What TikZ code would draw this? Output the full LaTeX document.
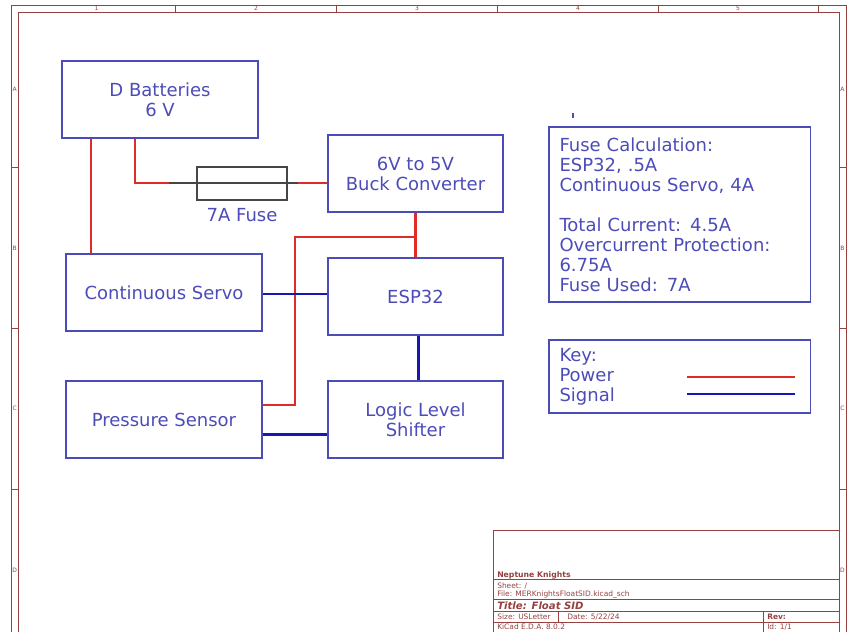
\documentclass[tikz,border=0pt]{standalone}
\usepackage{fontspec}
\setmainfont{DejaVu Sans}
\usetikzlibrary{positioning,calc}

\definecolor{notecol}{RGB}{76,76,184}
\definecolor{pwrcol}{RGB}{224,44,40}
\definecolor{sigcol}{RGB}{24,24,176}
\definecolor{frmcol}{RGB}{150,64,64}
\definecolor{leadcol}{RGB}{70,70,70}

\begin{document}
\begin{tikzpicture}[x=0.75pt, y=-0.75pt, node distance=34.5pt,
  blk/.style={draw=notecol, line width=0.8pt, text=notecol, inner sep=0pt,
    minimum height=57.75pt, align=center, font=\fontsize{13.5}{15}\selectfont},
  wide/.style={blk, minimum width=147pt},
  narrow/.style={blk, minimum width=131.25pt},
  notebox/.style={blk, align=left, text width=180pt, inner xsep=7.9pt, minimum width=195.75pt},
  lbl/.style={text=notecol, inner sep=0pt, font=\fontsize{13.5}{15}\selectfont},
  pwr/.style={draw=pwrcol, line width=2.2pt},
  sig/.style={draw=sigcol, line width=2.2pt},
  fusebox/.style={draw=leadcol, line width=0.8pt, minimum width=67.5pt, minimum height=24.75pt, inner sep=0pt},
  frm/.style={draw=frmcol, line width=0.6pt},
  frmtxt/.style={text=frmcol, inner sep=0pt, font=\fontsize{4.5}{5}\selectfont},
  tbtxt/.style={text=frmcol, inner sep=0pt, anchor=base west, font=\fontsize{5.6}{6}\selectfont}]
\useasboundingbox (0,0) rectangle (851,632);
\clip (0,0) rectangle (851,632);

% sheet frame
\draw[frm] (11.5,5) rectangle (846,660);
\draw[frm] (18,12) rectangle (839,660);
\foreach \x in {175,336,497,658,818}
  \draw[frm] (\x,5) -- (\x,12);
\foreach \y in {167,328,489} {
  \draw[frm] (11.5,\y) -- (18,\y);
  \draw[frm] (839,\y) -- (846,\y);
}
\foreach \n/\x in {1/96.5,2/256,3/417,4/578,5/738}
  \node[frmtxt] (col\n) at (\x,8.5) {\n};
\foreach \r/\y in {A/89.5,B/248,C/408,D/570} {
  \node[frmtxt] (rowl\r) at (14.8,\y) {\r};
  \node[frmtxt] (rowr\r) at (842.5,\y) {\r};
}

% title block
\draw[frm] (493,530) rectangle (839,660);
\draw[frm] (493,579) -- (839,579);
\draw[frm] (493,599) -- (839,599);
\draw[frm] (493,611) -- (839,611);
\draw[frm] (493,622) -- (839,622);
\draw[frm] (558,611) -- (558,622);
\draw[frm] (763,611) -- (763,660);
\node[tbtxt, font=\fontsize{5.8}{6}\selectfont\bfseries] (org) at (497,577) {Neptune Knights};
\node[tbtxt] (sheet) at (497,588) {Sheet: /};
\node[tbtxt] (file) at (497,596.5) {File: MERKnightsFloatSID.kicad\_sch};
\node[tbtxt, font=\fontsize{7.6}{8}\selectfont\bfseries\itshape] (title) at (497,609) {Title: Float SID};
\node[tbtxt] (size) at (497,619.5) {Size: USLetter};
\node[tbtxt] (date) at (567,619.5) {Date: 5/22/24};
\node[tbtxt, font=\fontsize{5.6}{6}\selectfont\bfseries] (rev) at (767,619.5) {Rev:};
\node[tbtxt] (tool) at (497,629.5) {KiCad E.D.A. 8.0.2};
\node[tbtxt] (ident) at (767,629.5) {Id: 1/1};

% blocks
\node[wide] (batt) at (160,99.5) {D Batteries\\6 V};
\node[narrow] (buck) at (415.5,173.5) {6V to 5V\\Buck Converter};
\node[narrow] (esp) at (415.5,296.5) {ESP32};
\node[narrow] (shift) at (415.5,419.5) {Logic Level\\Shifter};
\node[wide] (servo) at (164,292.5) {Continuous Servo};
\node[wide] (press) at (164,419.5) {Pressure Sensor};

% fuse
\node[fusebox] (fuse) at (242,183.5) {};
\node[lbl, below=6pt of fuse] (fuselbl) {7A Fuse};
\coordinate (fl) at (169,183);
\coordinate (fr) at (298,183);
\draw[draw=leadcol, line width=0.8pt] (fl) -- (fr);

% power
\draw[pwr] (batt.south -| 91,0) -- (servo.north -| 91,0);
\draw[pwr] (batt.south -| 135,0) |- (fl);
\draw[pwr] (fr) -- (fr -| buck.west);
\draw[pwr] (buck.south) -- (esp.north);
\coordinate (j) at (415.5,237);
\draw[pwr] (j) -- ++(-120.5,0) |- ([yshift=10.9pt]press.east);

% signal
\draw[sig] ([yshift=-1.1pt]servo.east) -- ([yshift=-1.1pt]servo.east -| esp.west);
\draw[sig] ([xshift=1.9pt]esp.south) -- ([xshift=1.9pt]shift.north);
\draw[sig] ([yshift=-10.9pt]press.east) -- ([yshift=-10.9pt]press.east -| shift.west);

% notes
\node[notebox, minimum height=131.25pt] (calc) at (679.5,214.5)
  {Fuse Calculation:\\ESP32, .5A\\Continuous Servo, 4A\\[15pt]Total Current: 4.5A\\Overcurrent Protection:\\6.75A\\Fuse Used: 7A};
\draw[draw=notecol, line width=0.8pt] (573,113) -- (573,117.5);
\node[notebox, minimum height=54.75pt] (key) at (679.5,376.5) {Key:\\Power\\Signal};
\coordinate (pa) at (687,377);
\coordinate (pb) at (795,377);
\coordinate (sa) at (687,394);
\coordinate (sb) at (795,394);
\draw[pwr] (pa) -- (pb);
\draw[sig] (sa) -- (sb);
\end{tikzpicture}
\end{document}
